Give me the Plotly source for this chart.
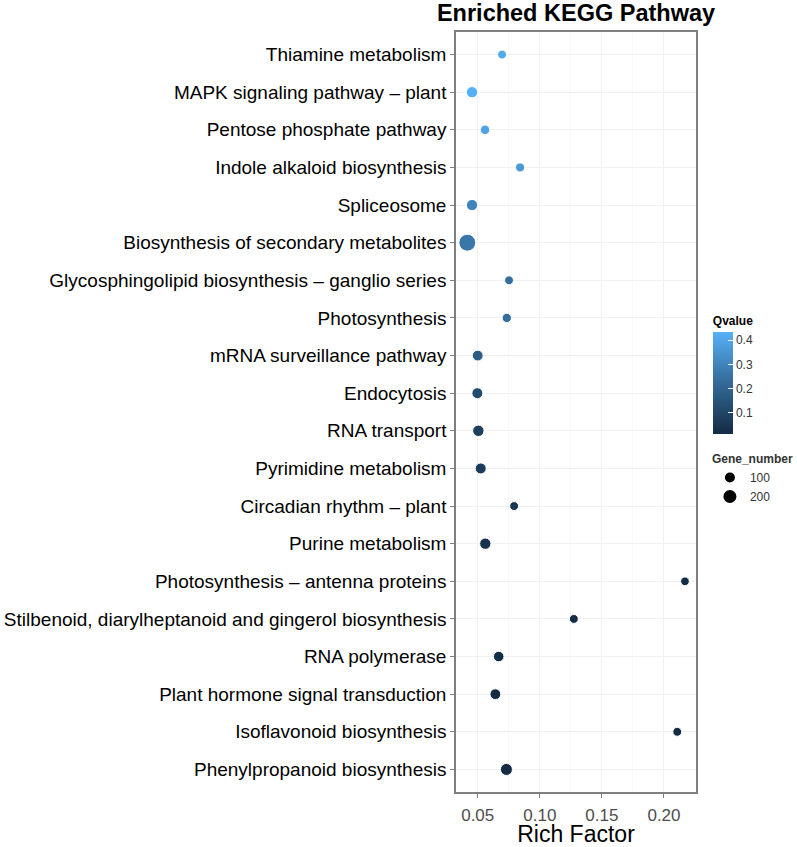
import plotly.graph_objects as go
import numpy as np

pathways = [
    "Thiamine metabolism",
    "MAPK signaling pathway \u2013 plant",
    "Pentose phosphate pathway",
    "Indole alkaloid biosynthesis",
    "Spliceosome",
    "Biosynthesis of secondary metabolites",
    "Glycosphingolipid biosynthesis \u2013 ganglio series",
    "Photosynthesis",
    "mRNA surveillance pathway",
    "Endocytosis",
    "RNA transport",
    "Pyrimidine metabolism",
    "Circadian rhythm \u2013 plant",
    "Purine metabolism",
    "Photosynthesis \u2013 antenna proteins",
    "Stilbenoid, diarylheptanoid and gingerol biosynthesis",
    "RNA polymerase",
    "Plant hormone signal transduction",
    "Isoflavonoid biosynthesis",
    "Phenylpropanoid biosynthesis",
]
rich_factor = [0.0696, 0.0454, 0.0559, 0.0841, 0.0454, 0.0416, 0.0752, 0.0734,
               0.0500, 0.0497, 0.0505, 0.0524, 0.0793, 0.0561, 0.2169, 0.1274,
               0.0669, 0.0642, 0.2107, 0.0731]
qvalue = [0.41, 0.43, 0.39, 0.36, 0.30, 0.26, 0.24, 0.23, 0.18, 0.12,
          0.08, 0.07, 0.05, 0.04, 0.02, 0.02, 0.02, 0.015, 0.013, 0.012]
gene_number = [70, 140, 85, 75, 140, 370, 70, 80, 125, 130,
               145, 130, 70, 140, 65, 70, 115, 125, 70, 165]
legend_genes = [100, 200]

q_min, q_max = 0.012, 0.434


def dot_size(n):
    return np.sqrt(31 + 0.69 * np.asarray(n, dtype=float))


font = "Liberation Sans, Arial, sans-serif"
grid = "#f1f1f1"

fig = go.Figure()
fig.add_trace(go.Scatter(
    x=rich_factor, y=pathways, mode="markers", showlegend=False,
    marker=dict(
        size=dot_size(gene_number), color=qvalue, opacity=1,
        colorscale=[[0, "#132B43"], [0.5, "#336A98"], [1, "#56B1F7"]],
        cmin=q_min, cmax=q_max,
        colorbar=dict(
            title=dict(text="<b>Qvalue</b>", font=dict(size=12, color="black"), side="top"),
            x=1.07, xanchor="left", y=0.5507, yanchor="middle",
            len=0.159, lenmode="fraction", thickness=20, outlinewidth=0,
            xpad=0, ypad=0,
            tickvals=[0.1, 0.2, 0.3, 0.4], ticks="inside", tickcolor="white",
            ticklen=5, tickfont=dict(size=12, color="#333333"),
        ),
    ),
))
for g in legend_genes:
    fig.add_trace(go.Scatter(
        x=[None], y=[None], mode="markers", name=str(g),
        marker=dict(size=float(dot_size(g)), color="black", opacity=1),
    ))

fig.update_layout(
    width=797, height=847,
    margin=dict(l=456, r=101, t=32, b=55, autoexpand=False),
    paper_bgcolor="white", plot_bgcolor="white",
    font=dict(family=font, color="black"),
    title=dict(text="<b>Enriched KEGG Pathway</b>", x=0.5, xref="paper",
               yref="container", y=0.9845, yanchor="middle",
               font=dict(size=23.5, color="black")),
    legend=dict(
        title=dict(text="<b>Gene_number</b>", font=dict(size=12)),
        x=1.058, xanchor="left", y=0.4534, yanchor="top",
        itemsizing="trace", font=dict(size=12, color="#333333"),
        bgcolor="rgba(0,0,0,0)", tracegroupgap=0,
    ),
    xaxis=dict(
        range=[0.0325, 0.2258], tickvals=[0.05, 0.10, 0.15, 0.20],
        ticktext=["0.05", "0.10", "0.15", "0.20"],
        showgrid=True, gridcolor=grid, gridwidth=1,
        minor=dict(dtick=0.025, tick0=0.025, showgrid=True, gridcolor="#f8f8f8"),
        zeroline=False, showline=True, linecolor="#7f7f7f", linewidth=1.5, mirror=True,
        ticks="outside", ticklen=4, tickcolor="#7f7f7f", ticklabelstandoff=3,
        tickfont=dict(size=17, color="#4d4d4d"),
        title=dict(text="Rich Factor", font=dict(size=23, color="black"), standoff=7),
    ),
    yaxis=dict(
        categoryorder="array", categoryarray=pathways[::-1],
        range=[-0.6, len(pathways) - 0.4],
        showgrid=True, gridcolor=grid, gridwidth=1, zeroline=False,
        showline=True, linecolor="#7f7f7f", linewidth=1.5, mirror=True,
        ticks="outside", ticklen=4, tickcolor="#7f7f7f",
        tickfont=dict(size=19, color="black"),
    ),
)

# the page body has a default 8px margin; drop it so the figure sits at 0,0
fig.write_html("out.html", config={"displayModeBar": False},
               post_script="document.body.style.margin='0px';")
